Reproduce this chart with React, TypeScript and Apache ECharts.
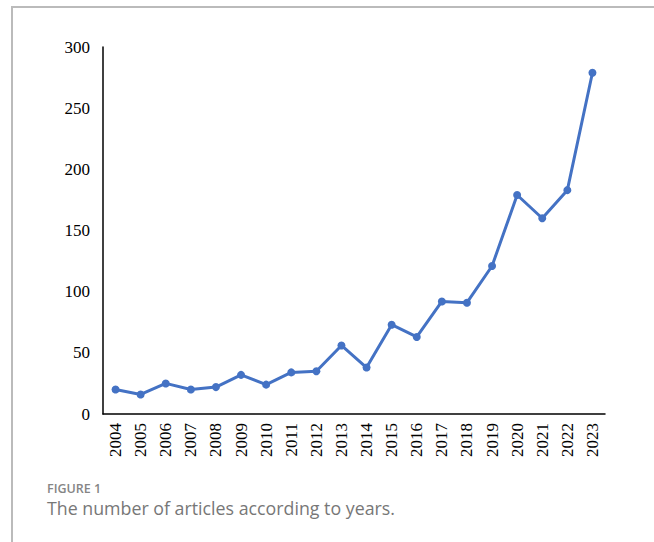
import React, { useEffect, useRef } from "react";
import * as echarts from "echarts";

const years = ["2004","2005","2006","2007","2008","2009","2010","2011","2012","2013","2014","2015","2016","2017","2018","2019","2020","2021","2022","2023"];
const articles = [20, 16, 25, 20, 22, 32, 24, 34, 35, 56, 38, 73, 63, 92, 91, 121, 179, 160, 183, 279];
const figureLabel = "FIGURE 1";
const captionText = "The number of articles according to years.";

const serif = "Liberation Serif";

export default function App() {
  const ref = useRef<HTMLDivElement>(null);
  useEffect(() => {
    if (!ref.current) return;
    const chart = echarts.init(ref.current, null, { renderer: "svg" });
    chart.setOption({
      animation: false,
      backgroundColor: "#ffffff",
      textStyle: { fontFamily: serif },
      grid: { left: 103, right: 49, top: 47, bottom: 128, containLabel: false },
      xAxis: {
        type: "category",
        data: years,
        boundaryGap: true,
        axisLine: { show: true, lineStyle: { color: "#000", width: 1.5 } },
        axisTick: { show: false },
        axisLabel: {
          rotate: 90,
          margin: 9,
          color: "#000",
          fontFamily: serif,
          fontSize: 17,
          interval: 0,
        },
        splitLine: { show: false },
      },
      yAxis: {
        type: "value",
        min: 0,
        max: 300,
        interval: 50,
        axisLine: { show: true, lineStyle: { color: "#000", width: 1.5 } },
        axisTick: { show: false },
        axisLabel: {
          margin: 13,
          color: "#000",
          fontFamily: serif,
          fontSize: 17,
        },
        splitLine: { show: false },
      },
      series: [
        {
          type: "line",
          data: articles,
          symbol: "circle",
          symbolSize: 8,
          lineStyle: { color: "#4472C4", width: 3 },
          itemStyle: { color: "#4472C4" },
        },
      ],
      graphic: [
        { type: "line", shape: { x1: 12, y1: 7, x2: 12, y2: 542 }, style: { stroke: "#bbbbbb", lineWidth: 2 } },
        { type: "line", shape: { x1: 11, y1: 7, x2: 654, y2: 7 }, style: { stroke: "#bbbbbb", lineWidth: 2 } },
        {
          type: "text",
          left: 47,
          top: 482,
          style: { text: figureLabel, fill: "#858585", font: "600 12.5px 'Open Sans'" },
        },
        {
          type: "text",
          left: 47,
          top: 499,
          style: { text: captionText, fill: "#777777", font: "17.8px 'Open Sans'" },
        },
      ],
    });
    return () => chart.dispose();
  }, []);
  return (
    <div
      ref={ref}
      style={{ position: "fixed", left: 0, top: 0, width: 654, height: 542, background: "#fff" }}
    />
  );
}
